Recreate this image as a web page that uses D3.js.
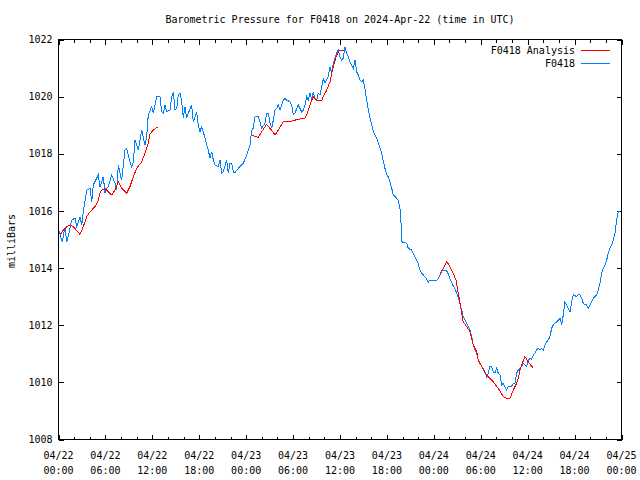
<!DOCTYPE html>
<html><head><meta charset="utf-8">
<script src="https://cdn.jsdelivr.net/npm/d3@7"></script>
<style>
body{margin:0;background:#fff;}
text{font-family:"DejaVu Sans Mono",monospace;font-size:10px;fill:#000;}
</style></head>
<body><svg id="c" width="640" height="480"></svg>
<script>
// ---- data (hours after 2024-04-22 00:00 UTC, pressure in mb) ----
const stationName = "F0418";
const titleText = "Barometric Pressure for F0418 on 2024-Apr-22 (time in UTC)";
const yTicks = [1008,1010,1012,1014,1016,1018,1020,1022];

const obsHours = [0.06,0.26,0.49,0.70,0.83,1.05,1.28,1.69,2.11,2.33,2.75,2.97,3.17,3.61,4.03,4.25,4.45,5.09,5.31,5.52,5.73,5.95,6.16,6.37,6.80,7.22,7.44,7.65,7.86,8.08,8.50,8.72,8.93,9.14,9.36,9.57,9.78,10.00,10.20,10.64,11.06,11.28,11.48,11.92,12.12,12.56,12.98,13.20,13.40,13.62,13.84,14.26,14.48,14.68,14.90,15.12,15.32,15.54,15.75,15.96,16.18,16.39,16.60,17.03,17.24,17.46,17.67,17.88,18.09,18.31,18.52,18.73,18.95,19.16,19.37,19.59,19.80,20.01,20.43,20.65,20.87,21.07,21.51,21.71,21.93,22.15,22.35,22.57,22.79,23.21,23.63,24.07,24.49,24.71,24.91,25.13,25.55,25.77,25.98,26.41,26.62,26.83,27.05,27.26,27.47,27.69,27.90,28.11,28.32,28.75,28.96,29.18,29.60,29.82,30.03,30.24,30.66,30.88,31.10,31.30,31.52,31.74,31.94,32.16,32.38,32.58,32.80,33.02,33.22,33.44,33.66,33.86,34.08,34.30,34.50,34.72,34.94,35.14,35.36,35.58,35.78,36.00,36.22,36.42,36.64,36.85,37.06,37.28,37.49,37.70,37.92,38.13,38.34,38.55,38.77,38.98,39.19,39.41,39.62,39.83,40.05,40.26,40.47,40.69,40.90,41.11,41.33,41.53,41.75,41.97,42.17,42.39,42.61,42.81,43.03,43.25,43.45,43.67,43.80,43.89,44.53,44.73,45.17,45.37,45.81,46.01,46.23,46.45,46.87,47.08,47.29,47.51,48.36,48.57,48.79,49.00,49.64,49.85,50.06,50.49,50.70,50.92,51.21,51.56,51.76,51.98,52.20,52.40,52.62,52.84,53.04,53.26,53.48,53.68,53.90,54.12,54.32,54.54,54.76,54.96,55.18,55.40,55.60,55.82,56.04,56.24,56.46,56.68,56.88,57.10,57.32,57.52,57.95,58.16,58.38,58.59,58.80,59.02,59.23,59.44,59.65,59.87,60.08,60.29,60.51,60.72,60.93,61.15,61.36,61.57,61.79,62.00,62.21,62.43,62.63,62.85,63.07,63.27,63.49,63.71,63.91,64.13,64.35,64.55,64.77,64.99,65.19,65.41,65.63,65.83,66.27,66.47,66.69,66.91,67.11,67.33,67.54,67.75,67.97,68.18,68.39,68.61,68.82,69.03,69.25,69.46,69.67,69.88,70.10,70.31,70.52,70.74,70.95,71.16,71.37,71.58,71.80];
const obsPressure = [1015.30,1015.12,1014.92,1015.26,1015.40,1014.92,1015.16,1015.68,1015.75,1015.45,1015.80,1015.51,1015.97,1016.73,1016.79,1016.32,1016.91,1017.26,1016.85,1017.02,1017.20,1016.62,1016.79,1016.85,1017.26,1016.97,1016.73,1017.61,1017.32,1017.07,1018.13,1018.19,1017.96,1017.71,1017.55,1017.72,1018.48,1018.31,1018.13,1018.83,1018.31,1018.60,1019.36,1019.65,1019.42,1020.00,1020.00,1019.47,1019.42,1019.71,1019.47,1019.53,1020.00,1020.17,1019.53,1019.59,1020.06,1020.12,1019.82,1019.24,1019.65,1019.24,1019.42,1019.71,1019.12,1019.30,1019.47,1019.01,1018.77,1018.95,1018.77,1018.55,1018.31,1018.13,1017.84,1018.07,1017.78,1017.61,1017.55,1017.78,1017.32,1017.37,1017.78,1017.32,1017.67,1017.67,1017.37,1017.32,1017.43,1017.55,1017.67,1017.96,1018.31,1018.83,1018.89,1019.30,1019.30,1019.12,1018.89,1019.07,1019.42,1019.42,1019.07,1018.89,1019.18,1019.53,1019.59,1019.71,1019.53,1019.88,1019.94,1019.88,1019.82,1019.71,1019.36,1019.42,1019.71,1019.59,1019.47,1019.53,1019.71,1020.00,1019.88,1020.12,1019.88,1020.17,1019.94,1019.88,1020.12,1020.06,1020.35,1020.64,1020.47,1020.58,1020.70,1021.05,1020.82,1021.17,1021.34,1021.52,1021.63,1021.40,1021.28,1021.34,1021.75,1021.52,1021.39,1021.22,1021.11,1020.99,1021.28,1020.87,1020.76,1020.58,1020.52,1020.58,1020.29,1019.88,1019.53,1019.27,1019.04,1018.77,1018.66,1018.55,1018.37,1018.20,1018.02,1017.75,1017.49,1017.26,1017.20,1017.02,1016.80,1016.56,1016.50,1016.44,1016.38,1016.09,1015.58,1014.92,1014.87,1014.69,1014.63,1014.52,1014.28,1014.14,1013.93,1013.82,1013.69,1013.62,1013.51,1013.58,1013.58,1013.62,1013.76,1013.90,1013.90,1013.79,1013.62,1013.37,1013.27,1013.12,1012.88,1012.53,1012.30,1012.18,1012.07,1011.95,1011.83,1011.60,1011.31,1011.13,1011.02,1010.78,1010.67,1010.55,1010.49,1010.37,1010.20,1010.32,1010.55,1010.55,1010.37,1010.32,1010.49,1010.32,1010.26,1009.91,1009.97,1009.85,1009.73,1009.85,1009.87,1009.97,1009.97,1010.32,1010.43,1010.49,1010.55,1010.67,1010.61,1010.55,1010.78,1010.84,1010.81,1010.96,1011.02,1011.13,1011.19,1011.13,1011.19,1011.13,1011.31,1011.42,1011.48,1011.60,1011.89,1012.01,1012.07,1012.12,1012.18,1012.24,1012.01,1012.36,1012.82,1012.71,1012.59,1012.47,1012.82,1013.06,1013.00,1013.06,1013.06,1012.94,1012.77,1012.71,1012.71,1012.59,1012.71,1012.82,1012.94,1013.00,1013.06,1013.23,1013.47,1013.82,1013.99,1014.11,1014.28,1014.52,1014.69,1014.81,1014.98,1015.22,1015.66,1015.96,1016.00];

// analysis runs: three separate segments
const anaHours1 = [0.19,0.61,1.02,1.47,1.89,2.75,3.17,3.61,4.03,4.67,5.09,5.31,5.52,5.95,6.37,6.80,7.22,7.65,8.08,8.72,9.14,9.57,10.00,10.64,11.06,11.48,11.70,12.12,12.76];
const anaPressure1 = [1015.16,1015.33,1015.44,1015.51,1015.45,1015.18,1015.45,1015.80,1015.97,1016.15,1016.38,1016.62,1016.73,1016.79,1016.67,1016.56,1016.73,1017.02,1016.79,1016.62,1016.85,1017.20,1017.49,1017.72,1018.02,1018.37,1018.69,1018.83,1018.95];
const anaHours2 = [24.71,25.13,25.55,25.98,26.62,27.05,27.69,28.11,28.75,29.39,30.03,30.66,31.52,31.74,32.16,32.58,33.02,33.66,33.86,34.30,34.72,34.94,35.14,35.58,35.91,36.51];
const anaPressure2 = [1018.66,1018.60,1018.58,1018.77,1019.03,1018.89,1018.66,1018.83,1019.12,1019.12,1019.16,1019.21,1019.24,1019.36,1019.71,1020.00,1019.88,1019.86,1020.00,1020.23,1020.52,1020.82,1021.05,1021.46,1021.61,1021.61];
const anaHours3 = [48.79,49.64,50.06,50.49,50.83,51.13,51.34,51.56,51.76,52.20,52.62,52.84,53.04,53.48,53.68,54.12,54.54,54.96,55.60,56.24,56.88,57.32,57.74,58.16,58.59,58.80,59.02,59.23,59.65,60.08,60.72];
const anaPressure3 = [1013.76,1014.23,1014.05,1013.82,1013.58,1013.12,1012.77,1012.42,1012.12,1011.95,1011.77,1011.54,1011.31,1011.07,1010.78,1010.55,1010.32,1010.20,1010.02,1009.79,1009.50,1009.44,1009.44,1009.73,1009.97,1010.14,1010.43,1010.61,1010.90,1010.72,1010.49];

// ---- chart ----
const START = Date.UTC(2024,3,22,0,0);
const T = h => new Date(START + h*3600e3);
const L = 58.5, R = 621.5, TOP = 39.5, BOT = 439.5;
const svg = d3.select("#c");
const x = d3.scaleUtc().domain([T(0), T(72)]).range([L, R]);
const y = d3.scaleLinear().domain([1008,1022]).range([BOT, TOP]);

const zip = (hs, ps) => hs.map((h,i)=>({t:T(h), p:ps[i]}));
const line = d3.line().x(d=>x(d.t)).y(d=>y(d.p));

const minorX = d3.utcHour.every(2).range(T(0), T(72.01));
const fmt = d3.utcFormat("%m/%d"), fmt2 = d3.utcFormat("%H:%M");
const gb = svg.append("g").attr("transform",`translate(0,${BOT})`)
  .call(d3.axisBottom(x).tickValues(minorX).tickSize(-3).tickFormat(""));
const gt = svg.append("g").attr("transform",`translate(0,${TOP})`)
  .call(d3.axisTop(x).tickValues(minorX).tickSize(-3).tickFormat(""));
const majorX = d3.utcHour.every(6).range(T(0), T(72.01));
const gbM = svg.append("g").attr("transform",`translate(0,${BOT})`)
  .call(d3.axisBottom(x).tickValues(majorX).tickSize(-5).tickFormat(""));
const gtM = svg.append("g").attr("transform",`translate(0,${TOP})`)
  .call(d3.axisTop(x).tickValues(majorX).tickSize(-5).tickFormat(""));
const gl = svg.append("g").attr("transform",`translate(${L},0)`)
  .call(d3.axisLeft(y).tickValues(yTicks).tickSize(-5).tickPadding(6).tickFormat(d3.format("d")));
const gr = svg.append("g").attr("transform",`translate(${R},0)`)
  .call(d3.axisRight(y).tickValues(yTicks).tickSize(-5).tickFormat(""));
[gb,gt,gbM,gtM,gl,gr].forEach(g=>{
  g.select(".domain").remove();
  g.selectAll("line").attr("stroke","#000").attr("shape-rendering","crispEdges");
  g.attr("font-family",null).attr("font-size",null);
});
gl.selectAll("text").attr("x",-6);

const xl = svg.append("g");
majorX.forEach(d=>{
  const t = xl.append("text").attr("text-anchor","middle");
  t.append("tspan").attr("x",x(d)).attr("y",459).text(fmt(d));
  t.append("tspan").attr("x",x(d)).attr("y",474).text(fmt2(d));
});

svg.append("rect").attr("x",L).attr("y",TOP).attr("width",R-L).attr("height",BOT-TOP)
  .attr("fill","none").attr("stroke","#000").attr("shape-rendering","crispEdges");

const blue = "#0080ff", red = "#ff0000";
svg.append("path").datum(zip(obsHours, obsPressure)).attr("d", line)
  .attr("fill","none").attr("stroke",blue).attr("stroke-width",1).attr("shape-rendering","crispEdges");
[[anaHours1,anaPressure1],[anaHours2,anaPressure2],[anaHours3,anaPressure3]].forEach(([h,p])=>{
  svg.append("path").datum(zip(h,p)).attr("d", line)
    .attr("fill","none").attr("stroke",red).attr("stroke-width",1).attr("shape-rendering","crispEdges");
});

svg.append("text").attr("x",340).attr("y",23).attr("text-anchor","middle").text(titleText);
svg.append("text").attr("transform","translate(15,241) rotate(-90)").attr("text-anchor","middle").text("milliBars");

const leg = [[stationName+" Analysis", red, 50],[stationName, blue, 63]];
leg.forEach(([lab,c,yy])=>{
  svg.append("text").attr("x",575).attr("y",yy+3.5).attr("text-anchor","end").text(lab);
  svg.append("line").attr("x1",581).attr("x2",610).attr("y1",yy).attr("y2",yy)
    .attr("stroke",c).attr("stroke-width",1).attr("shape-rendering","crispEdges");
});
</script></body></html>
